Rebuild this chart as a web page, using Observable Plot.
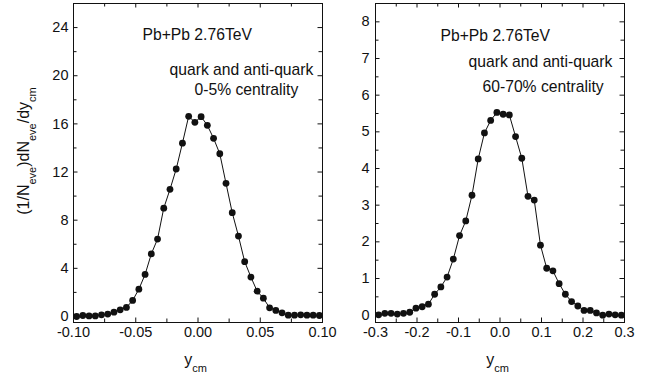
<!DOCTYPE html>
<html><head><meta charset="utf-8">
<script src="https://cdn.jsdelivr.net/npm/d3@7"></script>
<script src="https://cdn.jsdelivr.net/npm/@observablehq/plot@0.6"></script>
<style>
body{margin:0;background:#fff;}
#wrap{display:flex;width:654px;height:379px;background:#fff;}
svg{overflow:visible;}
</style></head><body><div id="wrap"></div>
<script>
// ---- Left panel: 0-5% centrality ----
const leftX = [-0.0975,-0.0925,-0.0875,-0.0825,-0.0775,-0.0725,-0.0675,-0.0625,-0.0575,-0.0525,
  -0.0475,-0.0425,-0.0375,-0.0325,-0.0275,-0.0225,-0.0175,-0.0125,-0.0075,-0.0025,
  0.0025,0.0075,0.0125,0.0175,0.0225,0.0275,0.0325,0.0375,0.0425,0.0475,
  0.0525,0.0575,0.0625,0.0675,0.0725,0.0775,0.0825,0.0875,0.0925,0.0975];
const leftY = [0.00,0.08,0.05,0.05,0.14,0.20,0.36,0.55,0.75,1.33,
  2.27,3.49,5.20,6.43,9.00,10.56,12.25,14.40,16.63,16.13,
  16.60,15.88,14.80,13.52,11.06,8.62,6.68,4.55,3.27,2.10,
  1.52,0.72,0.50,0.30,0.11,0.11,0.14,0.11,0.11,0.08];
const leftXTicks = [-0.10,-0.05,0.00,0.05,0.10];
const leftXTickLabels = ["-0.10","-0.05","0.00","0.05","0.10"];
const leftXMinor = [-0.075,-0.025,0.025,0.075];
const leftYTicks = [0,4,8,12,16,20,24];
const leftYTickLabels = ["0","4","8","12","16","20","24"];
const leftYMinor = [2,6,10,14,18,22];
const leftNotes = ["Pb+Pb 2.76TeV","quark and anti-quark","0-5% centrality"];
const leftNoteX = [-0.0446,-0.0229,-0.0028];
const leftNoteY = [22.93,20.10,18.36];

// ---- Right panel: 60-70% centrality ----
const rightX = [-0.2925,-0.2775,-0.2625,-0.2475,-0.2325,-0.2175,-0.2025,-0.1875,-0.1725,-0.1575,
  -0.1425,-0.1275,-0.1125,-0.0975,-0.0825,-0.0675,-0.0525,-0.0375,-0.0225,-0.0075,
  0.0075,0.0225,0.0375,0.0525,0.0675,0.0825,0.0975,0.1125,0.1275,0.1425,
  0.1575,0.1725,0.1875,0.2025,0.2175,0.2325,0.2475,0.2625,0.2775,0.2925];
const rightY = [0.01,0.05,0.05,0.03,0.05,0.08,0.19,0.23,0.30,0.57,
  0.77,1.04,1.53,2.17,2.57,3.27,4.26,4.97,5.31,5.53,
  5.48,5.46,4.87,4.28,3.24,3.14,1.91,1.28,1.21,0.86,
  0.57,0.37,0.25,0.13,0.13,0.06,0.00,0.03,0.01,0.00];
const rightXTicks = [-0.3,-0.2,-0.1,0.0,0.1,0.2,0.3];
const rightXTickLabels = ["-0.3","-0.2","-0.1","0.0","0.1","0.2","0.3"];
const rightXMinor = [-0.25,-0.15,-0.05,0.05,0.15,0.25];
const rightYTicks = [0,1,2,3,4,5,6,7,8];
const rightYTickLabels = ["0","1","2","3","4","5","6","7","8"];
const rightYMinor = [0.5,1.5,2.5,3.5,4.5,5.5,6.5,7.5];
const rightNotes = ["Pb+Pb 2.76TeV","quark and anti-quark","60-70% centrality"];
const rightNoteX = [-0.1434,-0.0759,-0.0422];
const rightNoteY = [7.49,6.755,6.073];

const FONT = "'Liberation Sans', Arial, Helvetica, sans-serif";
const INK = "#111";

function panel(p) {
  const H = 379, mt = 3, mb = 57;
  const plotW = p.width - p.marginLeft - p.marginRight;
  const plotH = H - mt - mb;
  const data = p.xs.map((x, i) => ({x, y: p.ys[i]}));
  const notes = p.notes.map((t, i) => ({t, x: p.noteX[i], y: p.noteY[i]}));
  const maj = 4.5, mnr = 3.5;
  const chart = Plot.plot({
    width: p.width, height: H,
    marginLeft: p.marginLeft, marginRight: p.marginRight, marginTop: mt, marginBottom: mb,
    style: {fontFamily: FONT, background: "transparent", color: INK, overflow: "visible"},
    x: {domain: p.xDomain, axis: null},
    y: {domain: p.yDomain, axis: null},
    marks: [
      Plot.line(data, {x: "x", y: "y", stroke: INK, strokeWidth: 1}),
      Plot.dot(data, {x: "x", y: "y", r: 3.4, fill: INK, stroke: "none"}),
      Plot.frame({stroke: INK, strokeWidth: 1}),
      // inward ticks, bottom & top
      Plot.tickX(p.xTicks, {x: d => d, insetTop: plotH - maj, stroke: INK}),
      Plot.tickX(p.xTicks, {x: d => d, insetBottom: plotH - maj, stroke: INK}),
      Plot.tickX(p.xMinor, {x: d => d, insetTop: plotH - mnr, stroke: INK}),
      Plot.tickX(p.xMinor, {x: d => d, insetBottom: plotH - mnr, stroke: INK}),
      // inward ticks, left & right
      Plot.tickY(p.yTicks, {y: d => d, insetRight: plotW - maj, stroke: INK}),
      Plot.tickY(p.yTicks, {y: d => d, insetLeft: plotW - maj, stroke: INK}),
      Plot.tickY(p.yMinor, {y: d => d, insetRight: plotW - mnr, stroke: INK}),
      Plot.tickY(p.yMinor, {y: d => d, insetLeft: plotW - mnr, stroke: INK}),
      // tick labels
      Plot.text(p.xTicks, {x: d => d, text: (d, i) => p.xTickLabels[i], frameAnchor: "bottom",
        dy: 4, lineAnchor: "top", fontSize: 14.5, fill: INK}),
      Plot.text(p.yTicks, {y: d => d, text: (d, i) => p.yTickLabels[i], frameAnchor: "left",
        dx: -p.yPad, textAnchor: "end", lineAnchor: "middle", fontSize: 14.5, fill: INK}),
      // annotations
      Plot.text(notes, {x: "x", y: "y", text: "t", textAnchor: "start", lineAnchor: "bottom",
        fontSize: 15.7, fill: INK})
    ]
  });
  const svg = d3.select(chart);
  const cx = p.marginLeft + plotW / 2;
  // x title: y_cm
  const xt = svg.append("text").attr("x", cx - 2).attr("y", 365)
    .attr("text-anchor", "middle").attr("font-size", 16).attr("fill", INK)
    .attr("font-family", FONT);
  xt.append("tspan").text("y");
  xt.append("tspan").attr("dy", 7).attr("font-size", 11).text("cm");
  if (p.yTitle) {
    const yt = svg.append("text").attr("transform", "translate(29,151) rotate(-90)")
      .attr("text-anchor", "middle").attr("font-size", 16).attr("fill", INK)
      .attr("font-family", FONT);
    yt.append("tspan").text("(1/N");
    yt.append("tspan").attr("dy", 7).attr("font-size", 11).text("eve");
    yt.append("tspan").attr("dy", -7).text(")dN");
    yt.append("tspan").attr("dy", 7).attr("font-size", 11).text("eve");
    yt.append("tspan").attr("dy", -7).text("/dy");
    yt.append("tspan").attr("dy", 7).attr("font-size", 11).text("cm");
  }
  return chart;
}

const wrap = document.getElementById("wrap");
wrap.appendChild(panel({
  xs: leftX, ys: leftY, xDomain: [-0.10, 0.10], yDomain: [-0.5, 26],
  xTicks: leftXTicks, xTickLabels: leftXTickLabels, xMinor: leftXMinor,
  yTicks: leftYTicks, yTickLabels: leftYTickLabels, yMinor: leftYMinor,
  notes: leftNotes, noteX: leftNoteX, noteY: leftNoteY,
  width: 327, marginLeft: 73, marginRight: 5, yPad: 5, yTitle: true
}));
wrap.appendChild(panel({
  xs: rightX, ys: rightY, xDomain: [-0.3, 0.3], yDomain: [-0.2, 8.5],
  xTicks: rightXTicks, xTickLabels: rightXTickLabels, xMinor: rightXMinor,
  yTicks: rightYTicks, yTickLabels: rightYTickLabels, yMinor: rightYMinor,
  notes: rightNotes, noteX: rightNoteX, noteY: rightNoteY,
  width: 327, marginLeft: 48, marginRight: 30, yPad: 6, yTitle: false
}));
</script></body></html>
